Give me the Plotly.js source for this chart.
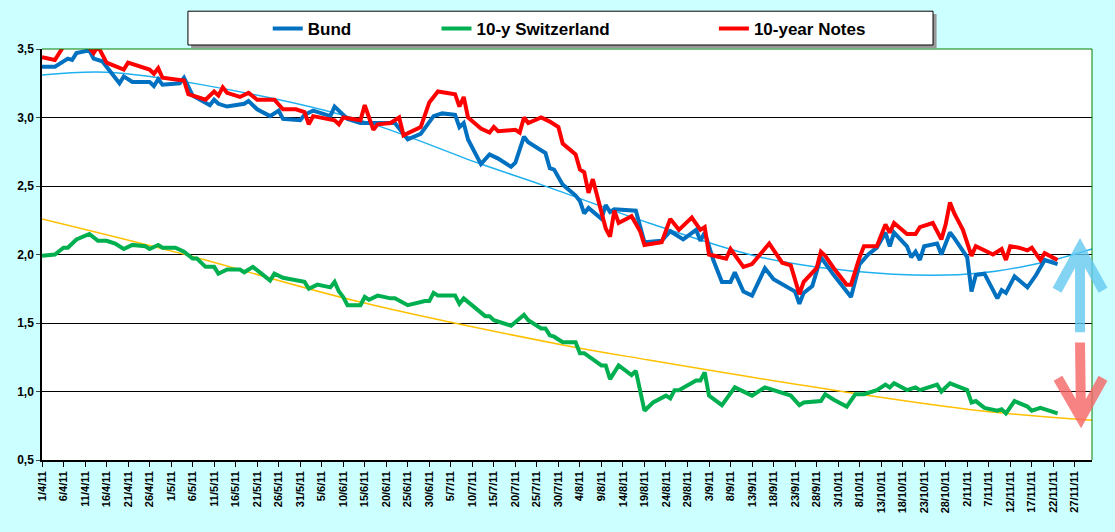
<!DOCTYPE html>
<html>
<head>
<meta charset="utf-8">
<script src="https://cdn.plot.ly/plotly-3.0.1.min.js"></script>
<style>body{margin:0;background:#ccffff}</style>
</head>
<body>
<div id="chart" style="width:1115px;height:532px"></div>
<script>
// days counted from 1 April 2011
const bundDays = [0,3,6,7,8,11,12,14,18,19,21,25,26,27,28,32,33,35,39,40,41,43,47,48,50,53,55,56,60,61,63,67,68,71,74,82,85,88,91,93,96,97,98,99,102,104,106,109,110,112,113,117,118,119,121,124,125,126,127,130,131,132,133,138,140,144,146,149,152,153,154,156,158,160,161,163,165,168,170,175,176,177,179,181,184,186,188,190,192,194,196,197,198,201,202,203,204,205,208,209,211,212,215,216,217,219,222,223,224,226,229,231,233,236];
const bundVals = [3.37,3.37,3.43,3.42,3.47,3.49,3.43,3.41,3.25,3.30,3.26,3.26,3.23,3.28,3.24,3.25,3.29,3.16,3.09,3.13,3.10,3.08,3.10,3.12,3.06,3.01,3.05,2.99,2.98,3.02,3.05,3.01,3.08,2.99,2.96,2.96,2.84,2.88,3.01,3.03,3.02,2.93,2.96,2.84,2.66,2.73,2.70,2.64,2.67,2.86,2.82,2.74,2.63,2.62,2.51,2.43,2.39,2.30,2.34,2.26,2.36,2.31,2.33,2.32,2.09,2.10,2.17,2.11,2.18,2.10,2.16,1.96,1.80,1.80,1.87,1.73,1.70,1.90,1.82,1.73,1.64,1.72,1.77,1.98,1.85,1.77,1.69,1.93,2.00,2.05,2.16,2.06,2.16,2.06,1.98,2.02,1.96,2.06,2.08,2.00,2.16,2.12,1.98,1.73,1.85,1.86,1.68,1.74,1.72,1.84,1.76,1.85,1.96,1.93];

const swissDays = [0,3,5,6,8,11,13,15,17,19,21,24,25,27,28,31,33,35,36,38,40,41,43,46,47,49,51,53,54,56,61,62,64,67,68,69,70,71,74,75,76,78,81,82,85,89,90,91,92,96,97,98,103,104,105,109,112,113,116,117,118,119,121,124,125,126,130,131,132,134,137,138,140,142,145,146,147,148,152,153,154,155,158,161,165,168,174,176,177,181,182,184,187,189,191,194,196,197,198,201,203,204,208,209,211,215,216,217,219,222,223,224,226,229,230,232,236];
const swissVals = [1.99,2.00,2.05,2.05,2.11,2.15,2.10,2.10,2.08,2.04,2.07,2.06,2.04,2.07,2.05,2.05,2.02,1.97,1.97,1.91,1.91,1.86,1.89,1.89,1.87,1.91,1.86,1.81,1.86,1.83,1.80,1.75,1.78,1.76,1.80,1.73,1.69,1.63,1.63,1.69,1.67,1.70,1.68,1.68,1.63,1.66,1.66,1.72,1.70,1.70,1.64,1.68,1.55,1.55,1.52,1.48,1.56,1.52,1.46,1.46,1.41,1.40,1.36,1.36,1.28,1.28,1.19,1.19,1.09,1.19,1.12,1.15,0.86,0.92,0.97,0.95,1.01,1.01,1.08,1.08,1.14,0.97,0.90,1.03,0.97,1.03,0.97,0.90,0.92,0.93,0.98,0.94,0.89,0.98,0.98,1.01,1.05,1.03,1.06,1.01,1.03,1.01,1.05,1.00,1.06,1.01,0.92,0.93,0.88,0.86,0.87,0.84,0.93,0.89,0.86,0.88,0.84];

const notesDays = [0,3,5,10,12,13,15,19,20,25,26,27,28,32,33,34,38,40,41,42,43,46,48,50,54,56,59,61,62,63,68,69,70,74,75,77,78,81,83,84,88,90,92,96,97,98,99,102,104,105,106,110,111,112,113,116,118,120,121,124,125,126,127,128,131,132,133,134,137,139,140,144,146,148,151,153,154,155,159,160,163,165,169,172,174,176,177,180,181,182,184,187,188,190,191,194,196,197,198,201,203,204,207,209,210,211,212,214,216,217,221,223,224,225,227,229,230,232,233,236];
const notesVals = [3.44,3.42,3.52,3.55,3.47,3.52,3.40,3.35,3.40,3.35,3.32,3.36,3.29,3.27,3.27,3.17,3.13,3.19,3.16,3.22,3.18,3.15,3.18,3.13,3.13,3.06,3.06,3.04,2.95,3.01,2.98,2.95,3.00,2.98,3.09,2.91,2.95,2.96,3.00,2.87,2.93,3.11,3.19,3.17,3.08,3.15,3.00,2.92,2.89,2.93,2.90,2.91,2.89,3.00,2.96,3.00,2.97,2.93,2.81,2.73,2.62,2.60,2.45,2.55,2.19,2.13,2.32,2.23,2.28,2.17,2.07,2.09,2.26,2.18,2.27,2.18,2.20,2.00,1.97,2.04,1.91,1.93,2.08,1.94,1.92,1.71,1.80,1.90,2.02,1.99,1.90,1.78,1.78,1.98,2.06,2.06,2.22,2.16,2.23,2.15,2.15,2.20,2.23,2.11,2.22,2.38,2.30,2.18,1.99,2.06,2.00,2.04,1.96,2.06,2.05,2.03,2.05,1.96,2.01,1.96];

const bundTrendDays = [0,15,37,73,102,116,141,167,188,210,222,235,244];
const bundTrendVals = [3.31,3.33,3.24,2.99,2.66,2.51,2.23,1.98,1.88,1.85,1.88,1.96,2.04];
const swissTrendDays = [0,32,73,121,141,186,218,244];
const swissTrendVals = [2.26,2.01,1.66,1.34,1.23,1.00,0.86,0.79];

const tickLabels = ['1/4/11','6/4/11','11/4/11','16/4/11','21/4/11','26/4/11','1/5/11','6/5/11','11/5/11','16/5/11','21/5/11','26/5/11','31/5/11','5/6/11','10/6/11','15/6/11','20/6/11','25/6/11','30/6/11','5/7/11','10/7/11','15/7/11','20/7/11','25/7/11','30/7/11','4/8/11','9/8/11','14/8/11','19/8/11','24/8/11','29/8/11','3/9/11','8/9/11','13/9/11','18/9/11','23/9/11','28/9/11','3/10/11','8/10/11','13/10/11','18/10/11','23/10/11','28/10/11','2/11/11','7/11/11','12/11/11','17/11/11','22/11/11','27/11/11'];
const tickDays = tickLabels.map((t, i) => i * 5);

const nb = n => '\u00a0'.repeat(n);

const data = [
  {x: bundTrendDays, y: bundTrendVals, mode: 'lines', line: {color: '#1fb0ef', width: 1.5, shape: 'spline'}, showlegend: false, hoverinfo: 'skip'},
  {x: swissTrendDays, y: swissTrendVals, mode: 'lines', line: {color: '#ffc000', width: 1.5, shape: 'spline'}, showlegend: false, hoverinfo: 'skip'},
  {x: bundDays, y: bundVals, name: 'Bund' + nb(17), mode: 'lines', line: {color: '#0070c0', width: 4}},
  {x: swissDays, y: swissVals, name: '10-y Switzerland' + nb(21), mode: 'lines', line: {color: '#00b050', width: 4}},
  {x: notesDays, y: notesVals, name: '10-year Notes', mode: 'lines', line: {color: '#ff0000', width: 4}}
];

const layout = {
  width: 1115, height: 532,
  paper_bgcolor: '#ccffff', plot_bgcolor: '#ffffff',
  margin: {l: 42, r: 23, t: 48, b: 72},
  separators: ',.',
  font: {family: 'Arial, Liberation Sans, sans-serif', color: '#000'},
  xaxis: {
    range: [0, 244], tickvals: tickDays, ticktext: tickLabels, tickangle: -90,
    ticks: 'outside', ticklen: 5, tickcolor: '#000', showgrid: false, zeroline: false,
    showline: true, linecolor: '#000', linewidth: 1.5,
    tickfont: {size: 11, weight: 'bold'}
  },
  yaxis: {
    range: [0.5, 3.5], dtick: 0.5, tickformat: '.1f', ticks: 'outside', ticklen: 4,
    showgrid: true, gridcolor: '#000', gridwidth: 1, zeroline: false,
    showline: true, linecolor: '#000', linewidth: 1.5,
    tickfont: {size: 12, weight: 'bold'}
  },
  legend: {
    orientation: 'h', x: 0.215, y: 1.09, xanchor: 'left', yanchor: 'top',
    bgcolor: 'rgba(0,0,0,0)', borderwidth: 0,
    font: {size: 17, weight: 'bold'}
  },
  shapes: [
    {type: 'line', xref: 'paper', yref: 'paper', x0: 0, x1: 1, y0: 1, y1: 1, line: {color: '#008000', width: 1}},
    {type: 'line', xref: 'paper', yref: 'paper', x0: 1, x1: 1, y0: 0, y1: 1, line: {color: '#008000', width: 1}},
    {type: 'rect', xref: 'paper', yref: 'paper', x0: 0.142, x1: 0.852, y0: 1.002, y1: 1.085, fillcolor: '#999', line: {width: 0}},
    {type: 'rect', xref: 'paper', yref: 'paper', x0: 0.139, x1: 0.8486, y0: 1.0097, y1: 1.092, fillcolor: '#fff', line: {color: '#000', width: 1}},
    {type: 'path', xref: 'paper', yref: 'paper', path: 'M0.9886,0.311 L0.9886,0.515 M0.9667,0.413 L0.9886,0.515 L1.0105,0.413',
     line: {color: 'rgba(100,200,240,0.8)', width: 10}},
    {type: 'path', xref: 'paper', yref: 'paper', path: 'M0.9886,0.286 L0.9895,0.102 M0.9676,0.199 L0.9895,0.102 L1.0105,0.199',
     line: {color: 'rgba(245,100,100,0.8)', width: 10}}
  ],
  showlegend: true
};

Plotly.newPlot('chart', data, layout, {displayModeBar: false});
</script>
</body>
</html>
